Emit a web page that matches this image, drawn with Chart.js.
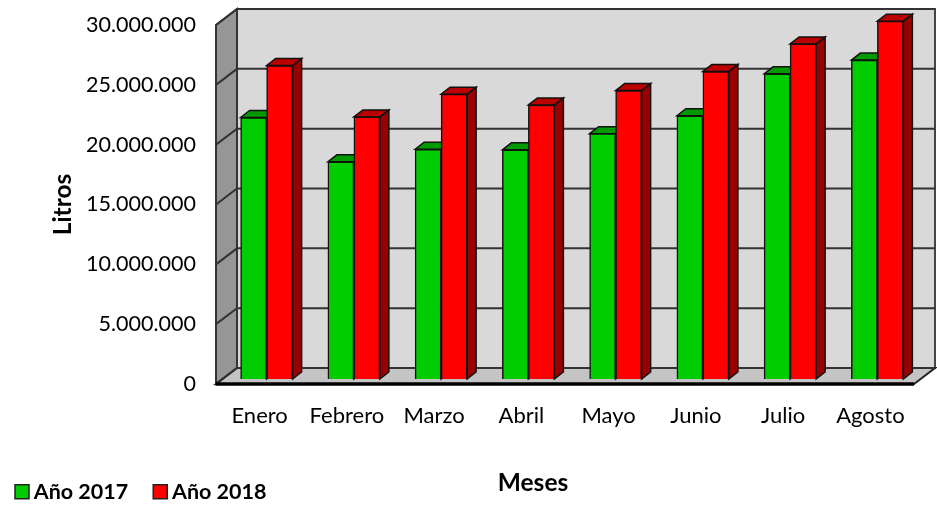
<!DOCTYPE html>
<html>
<head>
<meta charset="utf-8">
<style>html,body{margin:0;padding:0;background:#fff}canvas{display:block;filter:blur(0.45px)}</style>
<script src="https://cdn.jsdelivr.net/npm/chart.js@4"></script>
</head>
<body>
<canvas id="c" width="937" height="517"></canvas>
<script>
const months = ['Enero','Febrero','Marzo','Abril','Mayo','Junio','Julio','Agosto'];
const ano2017 = [21850000,18150000,19200000,19150000,20500000,22000000,25500000,26650000];
const ano2018 = [26200000,21900000,23800000,22900000,24100000,25700000,28000000,29900000];
const yTicks = [0,5000000,10000000,15000000,20000000,25000000,30000000];
const wallDepth = {x:21,y:-16}, barShift = {x:7,y:-5}, barDepth = {x:9,y:-7};
const FONT = 'Lato, Carlito, "Open Sans", sans-serif';

function poly(ctx, pts, fill, stroke, lw){
  ctx.beginPath();
  pts.forEach((p,i)=> i?ctx.lineTo(p[0],p[1]):ctx.moveTo(p[0],p[1]));
  ctx.closePath();
  if(fill){ctx.fillStyle=fill;ctx.fill();}
  if(stroke){ctx.strokeStyle=stroke;ctx.lineWidth=lw;ctx.lineJoin='miter';ctx.stroke();}
}
const box3d = {
  id:'box3d',
  beforeDatasetsDraw(chart){
    const {ctx,chartArea:a,scales:{y}} = chart, d=wallDepth;
    const y0=y.getPixelForValue(0), yT=y.getPixelForValue(30000000);
    ctx.save();
    poly(ctx,[[a.left+d.x,yT+d.y],[a.right+d.x,yT+d.y],[a.right+d.x,y0+d.y],[a.left+d.x,y0+d.y]],'#D9D9D9','#444',2);
    poly(ctx,[[a.left,yT],[a.left+d.x,yT+d.y],[a.left+d.x,y0+d.y],[a.left,y0]],'#969696','#333',2);
    poly(ctx,[[a.left,y0],[a.left+d.x,y0+d.y],[a.right+d.x,y0+d.y],[a.right,y0]],'#C4C4C4','#222',2);
    yTicks.forEach(v=>{
      const p=y.getPixelForValue(v);
      ctx.strokeStyle='#333';ctx.lineWidth=2;
      ctx.beginPath();ctx.moveTo(a.left,p);ctx.lineTo(a.left+d.x,p+d.y);ctx.lineTo(a.right+d.x,p+d.y);ctx.stroke();
    });
    ctx.strokeStyle='#000';ctx.lineWidth=3.5;
    ctx.beginPath();ctx.moveTo(a.left,y0);ctx.lineTo(a.right,y0);ctx.stroke();
    ctx.restore();
    ctx.save();
    ctx.translate(barShift.x,barShift.y);
    const shades=[{top:'#009900',side:'#008000'},{top:'#BB0000',side:'#990000'}];
    chart.data.datasets.forEach((ds,i)=>{
      chart.getDatasetMeta(i).data.forEach(b=>{
        const L=b.x-b.width/2,R=b.x+b.width/2,T=b.y,B=b.base,e=barDepth;
        poly(ctx,[[R,T],[R+e.x,T+e.y],[R+e.x,B+e.y],[R,B]],shades[i].side,'#111',1.5);
        poly(ctx,[[L,T],[L+e.x,T+e.y],[R+e.x,T+e.y],[R,T]],shades[i].top,'#111',1.5);
      });
    });
  },
  afterDatasetsDraw(chart){ chart.ctx.restore(); },
  afterDraw(chart){
    const {ctx,legend,data} = chart;
    legend.legendHitBoxes.forEach((h,i)=>{
      ctx.fillStyle=data.datasets[i].backgroundColor;
      ctx.strokeStyle='#222';ctx.lineWidth=1.5;
      ctx.fillRect(h.left-5,h.top+h.height/2-7,14,14);
      ctx.strokeRect(h.left-5,h.top+h.height/2-7,14,14);
    });
  }
};

new Chart(document.getElementById('c'),{
  type:'bar',
  plugins:[box3d],
  data:{labels:months,datasets:[
    {label:'Año 2017',data:ano2017,backgroundColor:'#00CC00',borderColor:'#111',borderWidth:1.5,barThickness:26,clip:false},
    {label:'Año 2018',data:ano2018,backgroundColor:'#FF0000',borderColor:'#111',borderWidth:1.5,barThickness:26,clip:false}
  ]},
  options:{
    responsive:false,animation:false,
    layout:{padding:{top:25,right:23,left:-10,bottom:4.5}},
    plugins:{
      tooltip:{enabled:false},
      legend:{position:'bottom',align:'start',
        labels:{boxWidth:3,boxHeight:3,padding:30,color:'#000',font:{family:FONT,size:21.5,weight:'bold'}}}
    },
    scales:{
      x:{
        grid:{display:false,drawTicks:false},border:{display:false},
        ticks:{color:'#000',font:{family:FONT,size:22},padding:19,maxRotation:0,autoSkip:false},
        title:{display:true,text:'Meses',color:'#000',font:{family:FONT,size:24.5,weight:'bold'},padding:{top:0,bottom:-46.7}},
        afterFit(s){
          s.height=67;
          if(!s._titleShifted){
            const orig=s.drawTitle;
            s.drawTitle=function(){const c=this.ctx;c.save();c.translate(-32,0);orig.call(this);c.restore();};
            s._titleShifted=true;
          }
        }
      },
      y:{
        min:0,max:30000000,
        grid:{display:false,drawTicks:false},border:{display:false},
        afterBuildTicks(s){s.ticks=yTicks.map(v=>({value:v}));},
        ticks:{color:'#000',font:{family:FONT,size:21.5},padding:20,callback:v=>String(v).replace(/\B(?=(\d{3})+$)/g,'.')},
        title:{display:true,text:'Litros',color:'#000',font:{family:FONT,size:24.5,weight:'bold'},padding:{top:58.3,bottom:0}},
        afterFit(s){s.width=226;s.paddingTop=0;s.paddingBottom=0;}
      }
    }
  }
});
</script>
</body>
</html>
